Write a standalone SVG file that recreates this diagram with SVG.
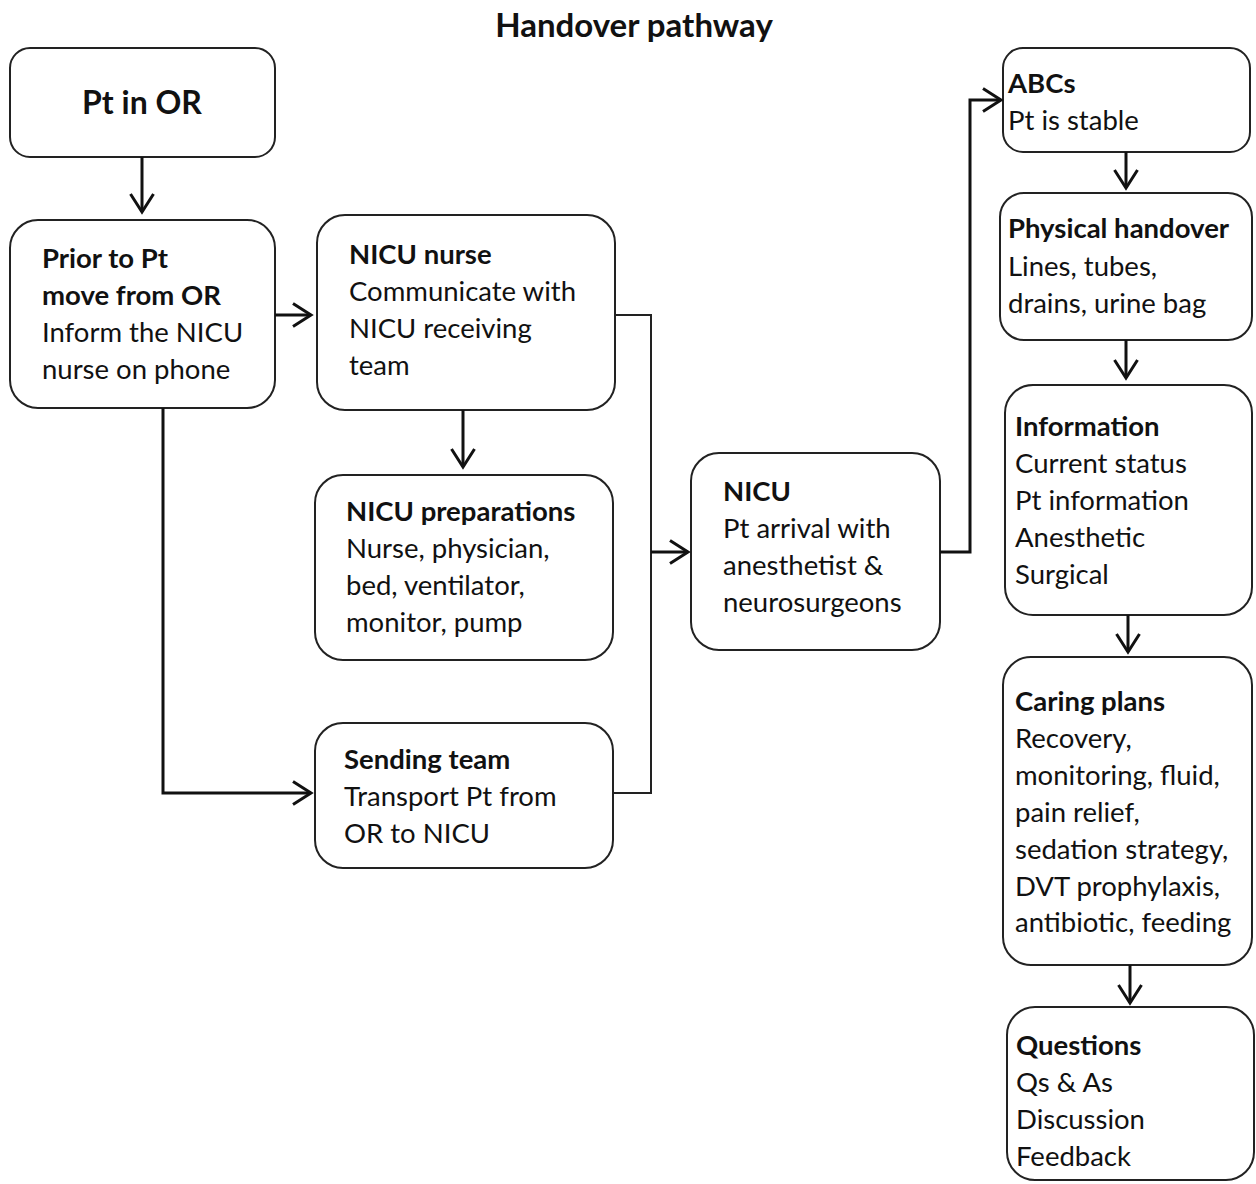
<svg xmlns="http://www.w3.org/2000/svg" width="1256" height="1184" viewBox="0 0 1256 1184">
<defs>
<marker id="arr" viewBox="0 0 28 28" refX="24" refY="14" markerWidth="28" markerHeight="28" markerUnits="userSpaceOnUse" orient="auto">
<path d="M6,2.5 L24,14 L6,25.5" fill="none" stroke="#111" stroke-width="3"/>
</marker>
<style>
.box{fill:#fff;stroke:#222;stroke-width:2}
.t{font-family:Lato,"Open Sans","Liberation Sans",sans-serif;font-size:27.5px;fill:#111}
.b{font-weight:bold}
.c{fill:none;stroke:#111;stroke-width:3}
.c2{fill:none;stroke:#222;stroke-width:2}
</style>
</defs>
<rect width="1256" height="1184" fill="#fff"/>
<text class="t b" x="634" y="37" text-anchor="middle" style="font-size:33px">Handover pathway</text>

<g id="n-ptor">
<rect class="box" x="10" y="48" width="265" height="109" rx="20"/>
<text class="t b" x="142" y="114" text-anchor="middle" style="font-size:32px">Pt in OR</text>
</g>
<g id="n-prior">
<rect class="box" x="10" y="220" width="265" height="188" rx="28"/>
<text class="t"><tspan class="b" x="42" y="268">Prior to Pt</tspan><tspan class="b" x="42" y="305">move from OR</tspan><tspan x="42" y="342">Inform the NICU</tspan><tspan x="42" y="379">nurse on phone</tspan></text>
</g>
<g id="n-nurse">
<rect class="box" x="317" y="215" width="298" height="195" rx="28"/>
<text class="t"><tspan class="b" x="349" y="264">NICU nurse</tspan><tspan x="349" y="301">Communicate with</tspan><tspan x="349" y="338">NICU receiving</tspan><tspan x="349" y="375">team</tspan></text>
</g>
<g id="n-prep">
<rect class="box" x="315" y="475" width="298" height="185" rx="28"/>
<text class="t"><tspan class="b" x="346" y="521">NICU preparations</tspan><tspan x="346" y="558">Nurse, physician,</tspan><tspan x="346" y="595">bed, ventilator,</tspan><tspan x="346" y="632">monitor, pump</tspan></text>
</g>
<g id="n-send">
<rect class="box" x="315" y="723" width="298" height="145" rx="28"/>
<text class="t"><tspan class="b" x="344" y="769">Sending team</tspan><tspan x="344" y="806">Transport Pt from</tspan><tspan x="344" y="843">OR to NICU</tspan></text>
</g>
<g id="n-nicu">
<rect class="box" x="691" y="453" width="249" height="197" rx="28"/>
<text class="t"><tspan class="b" x="723" y="501">NICU</tspan><tspan x="723" y="538">Pt arrival with</tspan><tspan x="723" y="575">anesthetist &amp;</tspan><tspan x="723" y="612">neurosurgeons</tspan></text>
</g>
<g id="n-abc">
<rect class="box" x="1003" y="48" width="247" height="104" rx="20"/>
<text class="t"><tspan class="b" x="1008" y="93">ABCs</tspan><tspan x="1008" y="130">Pt is stable</tspan></text>
</g>
<g id="n-phys">
<rect class="box" x="1000" y="193" width="252" height="147" rx="24"/>
<text class="t"><tspan class="b" x="1008" y="238">Physical handover</tspan><tspan x="1008" y="276">Lines, tubes,</tspan><tspan x="1008" y="313">drains, urine bag</tspan></text>
</g>
<g id="n-info">
<rect class="box" x="1005" y="385" width="247" height="230" rx="28"/>
<text class="t"><tspan class="b" x="1015" y="436">Information</tspan><tspan x="1015" y="473">Current status</tspan><tspan x="1015" y="510">Pt information</tspan><tspan x="1015" y="547">Anesthetic</tspan><tspan x="1015" y="584">Surgical</tspan></text>
</g>
<g id="n-care">
<rect class="box" x="1003" y="657" width="249" height="308" rx="28"/>
<text class="t"><tspan class="b" x="1015" y="711">Caring plans</tspan><tspan x="1015" y="748">Recovery,</tspan><tspan x="1015" y="785">monitoring, fluid,</tspan><tspan x="1015" y="822">pain relief,</tspan><tspan x="1015" y="859">sedation strategy,</tspan><tspan x="1015" y="896">DVT prophylaxis,</tspan><tspan x="1015" y="932">antibiotic, feeding</tspan></text>
</g>
<g id="n-q">
<rect class="box" x="1007" y="1007" width="247" height="173" rx="28"/>
<text class="t"><tspan class="b" x="1016" y="1055">Questions</tspan><tspan x="1016" y="1092">Qs &amp; As</tspan><tspan x="1016" y="1129">Discussion</tspan><tspan x="1016" y="1166">Feedback</tspan></text>
</g>

<g id="connectors">
<path class="c" d="M142,157 V212" marker-end="url(#arr)"/>
<path class="c" d="M275,315 H311" marker-end="url(#arr)"/>
<path class="c" d="M163,408 V793 H311" marker-end="url(#arr)"/>
<path class="c" d="M463,410 V467" marker-end="url(#arr)"/>
<path class="c2" d="M615,315 H651 V793 H613"/>
<path class="c" d="M651,552 H688" marker-end="url(#arr)"/>
<path class="c" d="M940,552 H970 V100 H1001" marker-end="url(#arr)"/>
<path class="c" d="M1126,152 V188" marker-end="url(#arr)"/>
<path class="c" d="M1126,340 V378" marker-end="url(#arr)"/>
<path class="c" d="M1128,615 V652" marker-end="url(#arr)"/>
<path class="c" d="M1130,965 V1003" marker-end="url(#arr)"/>
</g>
</svg>
